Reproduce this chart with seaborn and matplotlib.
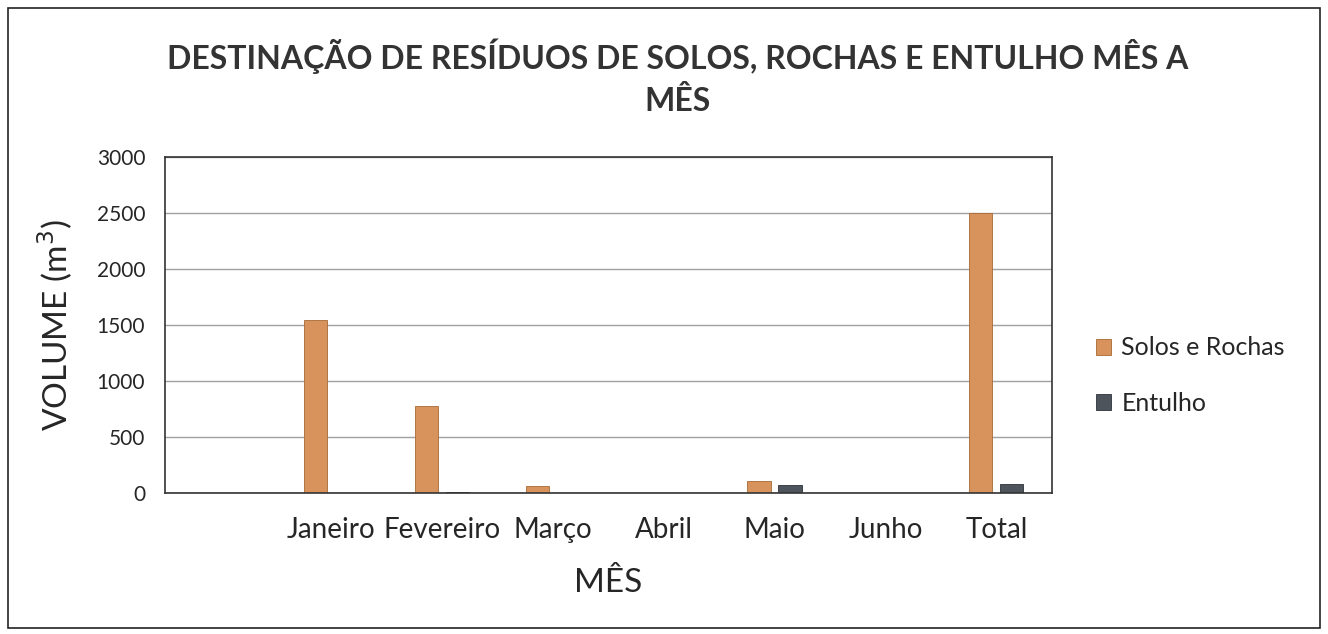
import matplotlib
matplotlib.use("Agg")
import matplotlib.pyplot as plt
import seaborn as sns
import pandas as pd
from matplotlib.patches import Rectangle

meses = ["Janeiro", "Fevereiro", "Março", "Abril", "Maio", "Junho", "Total"]
solos_rochas = [1550, 780, 65, 0, 110, 0, 2505]
entulho = [0, 15, 0, 0, 70, 0, 85]
series = ["Solos e Rochas", "Entulho"]
cores = ["#D8925C", "#4E545C"]
bordas = ["#A86A35", "#2E3238"]

df = pd.DataFrame({
    "Mês": meses * 2,
    "Volume": solos_rochas + entulho,
    "Série": [series[0]] * len(meses) + [series[1]] * len(meses),
})

sns.set_theme(style="white")
plt.rcParams["font.family"] = ["Lato", "DejaVu Sans"]

fig = plt.figure(figsize=(13.28, 6.34), dpi=100)
ax = fig.add_axes([0.124, 0.222, 0.668, 0.530])

sns.barplot(data=df, x="Mês", y="Volume", hue="Série", order=meses,
            hue_order=series, palette=cores, width=0.56, gap=0.25,
            saturation=1, linewidth=0.6, ax=ax, errorbar=None)

for cont, b in zip(ax.containers, bordas):
    for p in cont:
        p.set_edgecolor(b)

ax.set_xlim(-1.5, 6.5)
ax.set_ylim(0, 3000)
ax.set_yticks(range(0, 3001, 500))
ax.yaxis.grid(True, color="#a0a0a0", linewidth=1.0)
ax.set_axisbelow(True)
for s in ax.spines.values():
    s.set_visible(True)
    s.set_color("#333333")
    s.set_linewidth(1.2)
ax.tick_params(axis="y", labelsize=15, length=0, pad=14)
ax.tick_params(axis="x", labelsize=20, length=0, pad=17)
ax.set_xlabel("MÊS", fontsize=24, labelpad=18)
ax.set_ylabel("VOLUME (m$^3$)", fontsize=24, labelpad=16)

leg = ax.legend(loc="center left", bbox_to_anchor=(1.025, 0.35), frameon=False,
                fontsize=18, handlelength=0.6, handleheight=0.6,
                handletextpad=0.4, labelspacing=1.3)
for h, b in zip(leg.legend_handles, bordas):
    h.set_edgecolor(b)

fig.suptitle("DESTINAÇÃO DE RESÍDUOS DE SOLOS, ROCHAS E ENTULHO MÊS A\nMÊS",
             x=0.51, y=0.94, fontsize=23, fontweight="bold", color="#333333",
             linespacing=1.5)

fig.patches.append(Rectangle((0.006, 0.01), 0.988, 0.978, transform=fig.transFigure,
                             fill=False, edgecolor="#222222", linewidth=1.2))

fig.savefig("out.png", dpi=100)
